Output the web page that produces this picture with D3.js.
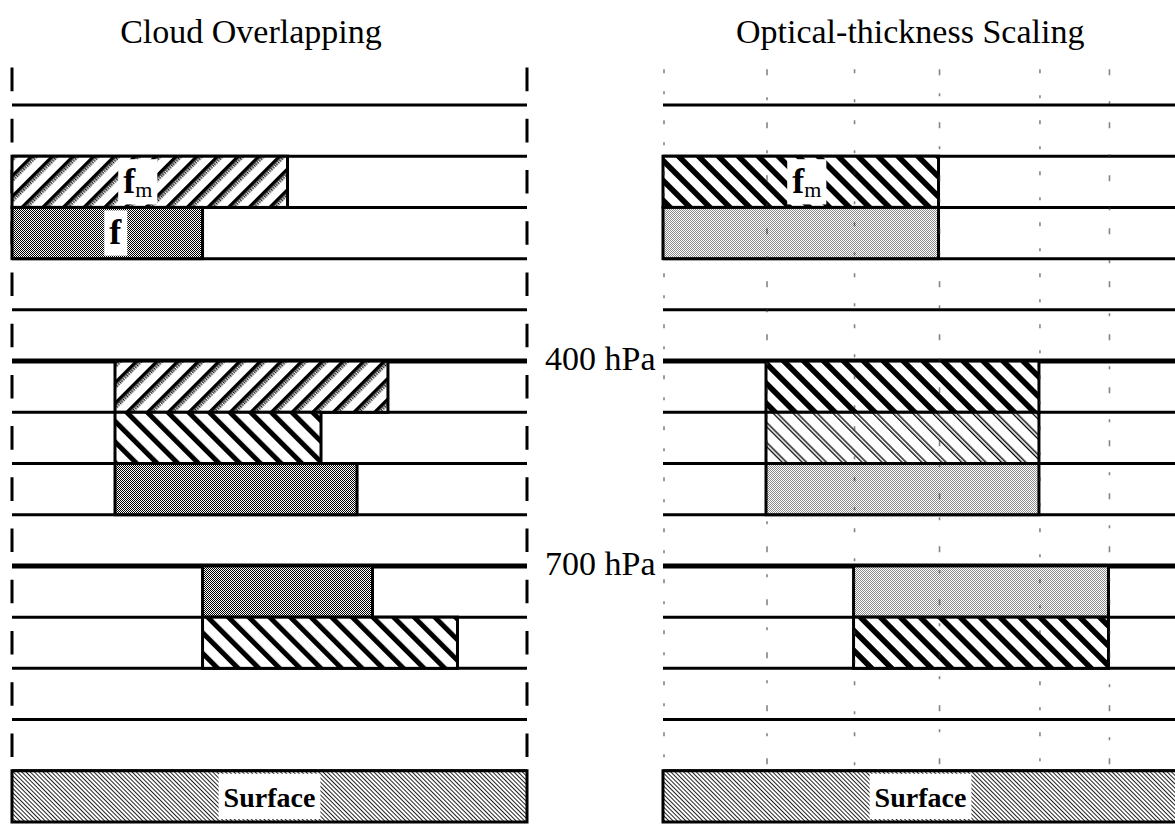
<!DOCTYPE html>
<html><head><meta charset="utf-8">
<script src="https://cdn.jsdelivr.net/npm/d3@7"></script>
<style>html,body{margin:0;padding:0;background:#fff;} svg{display:block;}</style>
</head><body>
<svg id="chart" width="1175" height="825"></svg>
<script>
// ---------- data ----------
const panelTitles = ["Cloud Overlapping", "Optical-thickness Scaling"];
const levels = d3.range(0, 14);          // layer interfaces drawn as lines
const thickLevels = [5, 9];              // 400 hPa and 700 hPa interfaces
const pressureLevels = [5, 9];
const pressureLabels = ["400 hPa", "700 hPa"];
const surfaceLevel = 13;
const surfaceLabel = "Surface";

// left panel: cloud overlapping (row = top interface index, fraction start/end)
const overlapRows   = [1, 2, 5, 6, 7, 9, 10];
const overlapStart  = [0, 0, 0.2, 0.2, 0.2, 0.37, 0.37];
const overlapEnd    = [0.535, 0.37, 0.73, 0.6, 0.67, 0.7, 0.865];
const overlapKind   = ["maxRandom", "fraction", "maxRandom", "random", "fraction", "fraction", "random"];
const overlapLabels = ["fm", "f", "", "", "", "", ""];

// right panel: optical-thickness scaling
const scalingRows   = [1, 2, 5, 6, 7, 9, 10];
const scalingStart  = [0, 0, 0.2, 0.2, 0.2, 0.37, 0.37];
const scalingEnd    = [0.535, 0.535, 0.73, 0.73, 0.73, 0.865, 0.865];
const scalingKind   = ["scaledThick", "scaledFraction", "scaledThick", "scaledThin", "scaledFraction", "scaledFraction", "scaledThick"];
const scalingLabels = ["fm", "", "", "", "", "", ""];

// faint scan marks on right panel (cloud-fraction edges)
const scanEdges = [0, 0.2, 0.37, 0.535, 0.73, 0.865];

// ---------- setup ----------
const svg = d3.select("#chart");
const serif = "'Liberation Serif','Times New Roman',Times,serif";
const y = d3.scaleLinear().domain([0, 14]).range([105, 822]);
const step = y(1) - y(0);
const xLeft = d3.scaleLinear().domain([0, 1]).range([12, 527]);
const xRight = d3.scaleLinear().domain([0, 1]).range([663, 1178]);

const defs = svg.append("defs");
function halftone(id, color) {
  const p = defs.append("pattern").attr("id", id).attr("patternUnits", "userSpaceOnUse")
    .attr("width", 2).attr("height", 2);
  p.append("rect").attr("width", 2).attr("height", 2).attr("fill", "#fff");
  p.append("rect").attr("width", 1).attr("height", 1).attr("fill", color);
  p.append("rect").attr("x", 1).attr("y", 1).attr("width", 1).attr("height", 1).attr("fill", color);
}
halftone("fraction", "#000");
halftone("scaledFraction", "#8a8a8a");

function stripes(id, angle, w, build) {
  const p = defs.append("pattern").attr("id", id).attr("patternUnits", "userSpaceOnUse")
    .attr("width", w).attr("height", w).attr("patternTransform", `rotate(${angle})`);
  p.append("rect").attr("width", w).attr("height", w).attr("fill", "#fff");
  build(p, w);
}
stripes("maxRandom", 45, 14.6, (p, w) => {
  p.append("rect").attr("x", 0).attr("width", 3.6).attr("height", w).attr("fill", "#000");
  p.append("line").attr("x1", 5.2).attr("x2", 5.2).attr("y1", 0).attr("y2", w)
    .attr("stroke", "#000").attr("stroke-width", 2.4).attr("stroke-dasharray", "1.2,1.2");
});
stripes("random", -45, 14.6, (p, w) => {
  p.append("rect").attr("x", 0).attr("width", 5).attr("height", w).attr("fill", "#000");
});
stripes("scaledThick", -45, 14.1, (p, w) => {
  p.append("rect").attr("x", 0).attr("width", 5.6).attr("height", w).attr("fill", "#000");
});
stripes("scaledThin", -45, 14.1, (p, w) => {
  p.append("rect").attr("x", 0).attr("width", 1.3).attr("height", w).attr("fill", "#000");
  p.append("rect").attr("x", 3).attr("width", 1.3).attr("height", w).attr("fill", "#000");
});
stripes("surface", -45, 3, (p, w) => {
  p.append("rect").attr("x", 0).attr("width", 1.0).attr("height", w).attr("fill", "#222");
});

// ---------- titles ----------
svg.append("text").attr("x", xLeft(0.464)).attr("y", 43).attr("text-anchor", "middle")
  .attr("font-family", serif).attr("font-size", 34).text(panelTitles[0]);
svg.append("text").attr("x", xRight(0.48)).attr("y", 43).attr("text-anchor", "middle")
  .attr("font-family", serif).attr("font-size", 34).text(panelTitles[1]);

// ---------- pressure labels ----------
pressureLevels.forEach((lv, i) => {
  svg.append("text").attr("x", 545).attr("y", y(lv) + 9)
    .attr("font-family", serif).attr("font-size", 34).text(pressureLabels[i]);
});

function labelBox(g, cx, row, label) {
  const t = g.append("text").attr("x", cx).attr("y", y(row + 0.5) + 11)
    .attr("text-anchor", "middle").attr("font-family", serif);
  if (label === "fm") {
    t.append("tspan").attr("font-size", 36).attr("font-weight", "bold").text("f");
    t.append("tspan").attr("font-size", 22).attr("dy", 4).text("m");
  } else {
    t.attr("font-size", label === "f" ? 36 : 28).attr("font-weight", "bold").text(label);
  }
  const bb = t.node().getBBox();
  g.insert("rect", () => t.node())
    .attr("x", bb.x - 5).attr("y", y(row) + 3).attr("width", bb.width + 10)
    .attr("height", step - 6).attr("fill", "#fff");
}

function drawPanel(x, rows, starts, ends, kinds, labels, isLeft) {
  const g = svg.append("g");
  // edge ticks (dashed side borders)
  if (isLeft) {
    [0, 1].forEach(f => {
      g.append("line").attr("x1", x(f)).attr("x2", x(f))
        .attr("y1", y(-0.73)).attr("y2", y(surfaceLevel))
        .attr("stroke", "#000").attr("stroke-width", 3)
        .attr("stroke-dasharray", `${0.46 * step},${0.54 * step}`);
    });
  }
  // interface lines
  g.selectAll("line.lev").data(levels).enter().append("line").attr("class", "lev")
    .attr("x1", x(0)).attr("x2", x(1)).attr("y1", d => y(d)).attr("y2", d => y(d))
    .attr("stroke", "#000").attr("stroke-width", d => thickLevels.includes(d) ? 5 : 3);
  // clouds
  const data = rows.map((r, i) => ({ r, s: starts[i], e: ends[i], k: kinds[i], l: labels[i] }));
  g.selectAll("rect.cloud").data(data).enter().append("rect").attr("class", "cloud")
    .attr("x", d => x(d.s)).attr("y", d => y(d.r))
    .attr("width", d => x(d.e) - x(d.s)).attr("height", d => y(d.r + 1) - y(d.r))
    .attr("fill", d => `url(#${d.k})`).attr("stroke", "#000").attr("stroke-width", 3);
  // surface
  g.append("rect").attr("x", x(0)).attr("y", y(surfaceLevel))
    .attr("width", x(1) - x(0)).attr("height", y(surfaceLevel + 1) - y(surfaceLevel))
    .attr("fill", "url(#surface)").attr("stroke", "#000").attr("stroke-width", 3);
  // labels
  data.filter(d => d.l).forEach(d => labelBox(g, x((d.s + d.e) / 2) - (d.l === "fm" && isLeft ? 12 : 0) + (d.l === "f" ? 8 : 0) + (!isLeft ? 6 : 0), d.r, d.l));
  labelBox(g, x(0.5), surfaceLevel, surfaceLabel);
  // scan marks
  if (!isLeft) {
    g.selectAll("line.scan").data(scanEdges).enter().append("line").attr("class", "scan")
      .attr("x1", d => x(d) + 1).attr("x2", d => x(d) + 1)
      .attr("y1", y(-0.7)).attr("y2", y(surfaceLevel) - 4)
      .attr("stroke", "#333").attr("stroke-width", 1.6).attr("opacity", 0.6)
      .attr("stroke-dasharray", (d, i) => `${4 + (i % 2) * 2},${18 + (i % 3) * 4},3,${26 - (i % 3) * 4}`);
  }
}

drawPanel(xLeft, overlapRows, overlapStart, overlapEnd, overlapKind, overlapLabels, true);
drawPanel(xRight, scalingRows, scalingStart, scalingEnd, scalingKind, scalingLabels, false);
</script>
</body></html>
